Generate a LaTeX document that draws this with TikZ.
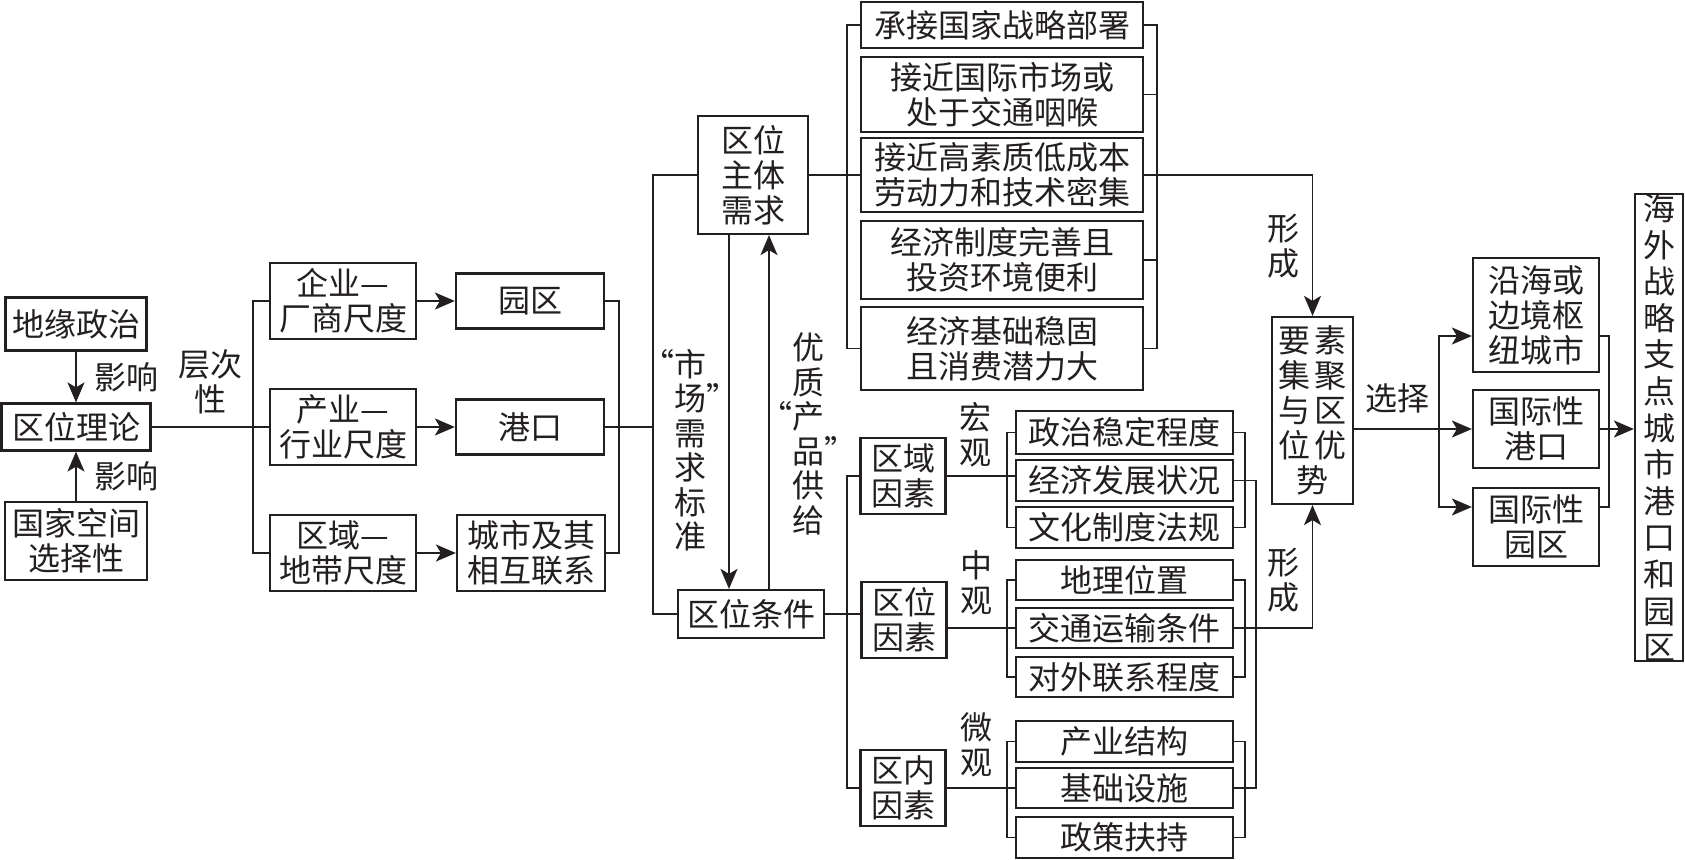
\documentclass[tikz,border=0pt]{standalone}
\usepackage{fontspec}
\setmainfont{Noto Sans CJK SC}
\newfontfamily\cjkwide[LetterSpace=10]{Noto Sans CJK SC}
\usepackage{tikz}
\usetikzlibrary{arrows.meta}
\definecolor{ink}{HTML}{231F20}
\newcommand{\boxfont}{\fontsize{16pt}{17.5pt}\selectfont}
\tikzset{
  box/.style={draw=ink, line width=1.1pt, inner sep=0pt, align=center, text=ink, font=\boxfont},
  widebox/.style={box, font=\cjkwide\boxfont},
  wire/.style={draw=ink, line width=0.9pt},
  arr/.style={wire, -{Stealth[length=10pt,width=8.5pt,inset=2.5pt]}},
  lab/.style={inner sep=0pt, align=center, text=ink, font=\boxfont}
}

\begin{document}
\begin{tikzpicture}[x=0.5pt,y=-0.5pt]
  \fill[white] (0,0) rectangle (1685,860);
  \useasboundingbox (0,0) rectangle (1685,860);
  % bracket columns
  \coordinate (bx1) at (253,0);
  \coordinate (bx2) at (619,0);
  \coordinate (vx) at (653,0);
  \coordinate (mx) at (847,0);
  \coordinate (trx) at (1157,0);
  \coordinate (sl) at (1007,0);
  \coordinate (sr) at (1245,0);
  \coordinate (lv) at (1256,0);
  \coordinate (selx) at (1439,0);
  \coordinate (rrx) at (1609,0);

  % theory side
  \node[box, minimum width=70.5pt, minimum height=26.5pt] (geo) at (76,324) {地缘政治};
  \node[box, minimum width=74.5pt, minimum height=23.5pt] (theory) at (76,427) {区位理论};
  \node[box, minimum width=71pt, minimum height=39pt] (state) at (76,541) {国家空间\\选择性};
  \draw[arr] (geo) -- (theory);
  \draw[arr] (state) -- (theory);
  \node[lab] (infl1) at (126,377) {影响};
  \node[lab] (infl2) at (126,476) {影响};
  \node[lab] (level) at (210,382) {层次\\性};

  % scales
  \node[box, minimum width=73pt, minimum height=38pt] (firm) at (343,301) {企业—\\厂商尺度};
  \node[box, minimum width=73pt, minimum height=38pt] (ind) at (343,427) {产业—\\行业尺度};
  \node[box, minimum width=73pt, minimum height=38pt] (reg) at (343,553) {区域—\\地带尺度};
  \node[box, minimum width=74pt, minimum height=27.5pt] (park) at (530,301) {园区};
  \node[box, minimum width=74pt, minimum height=27.5pt] (port) at (530,427) {港口};
  \node[box, minimum width=74pt, minimum height=38pt] (city) at (531,553) {城市及其\\相互联系};
  \draw[wire] (theory.east) -- (ind.west);
  \draw[wire] (firm.west) -| (reg.west -| bx1) -- (reg.west);
  \draw[arr] (firm) -- (park);
  \draw[arr] (ind) -- (port);
  \draw[arr] (reg) -- (city);
  \draw[wire] (park.east) -| (city.east -| bx2) -- (city.east);
  \draw[wire] (port.east) -- (port.east -| vx);

  % demand and conditions
  \node[box, minimum width=55pt, minimum height=59pt] (demand) at (753,175) {区位\\主体\\需求};
  \node[box, minimum width=73pt, minimum height=24pt] (cond) at (751,614) {区位条件};
  \draw[wire] (demand.west) -| (cond.west -| vx) -- (cond.west);
  \draw[arr] ([xshift=-12pt]demand.south) -- ([xshift=-12pt]demand.south |- cond.north);
  \draw[arr] ([xshift=8pt]demand.south |- cond.north) -- ([xshift=8pt]demand.south);
  \node[lab, font=\fontsize{16pt}{17.25pt}\selectfont] (mkt) at (690,450) {\llap{“}市\\场\rlap{”}\\需\\求\\标\\准};
  \node[lab, font=\fontsize{16pt}{17.25pt}\selectfont] (qual) at (808,434) {优\\质\\\llap{“}产\\品\rlap{”}\\供\\给};

  % needs of the locating subject
  \node[box, minimum width=141pt, minimum height=23pt] (t1) at (1002,25) {承接国家战略部署};
  \node[box, minimum width=141pt, minimum height=37.5pt] (t2) at (1002,94.5) {接近国际市场或\\处于交通咽喉};
  \node[box, minimum width=141pt, minimum height=37pt] (t3) at (1002,175) {接近高素质低成本\\劳动力和技术密集};
  \node[box, minimum width=141pt, minimum height=39pt] (t4) at (1002,260) {经济制度完善且\\投资环境便利};
  \node[box, minimum width=141pt, minimum height=41.5pt] (t5) at (1002,348.5) {经济基础稳固\\且消费潜力大};
  \draw[wire] (demand.east) -- (t3.west);
  \draw[wire] (t1.west) -| (t5.west -| mx) -- (t5.west);
  \draw[wire] (t1.east) -| (t5.east -| trx) -- (t5.east);
  \draw[wire] (t2.east) -- (t2.east -| trx);
  \draw[wire] (t4.east) -- (t4.east -| trx);

  % factors
  \node[box, minimum width=42.5pt, minimum height=38pt] (region) at (903,476) {区域\\因素};
  \node[box, minimum width=42.5pt, minimum height=38pt] (locf) at (904,620) {区位\\因素};
  \node[box, minimum width=42.5pt, minimum height=38pt] (inner) at (903,788) {区内\\因素};
  \draw[wire] (cond.east) -- (cond.east -| locf.west);
  \draw[wire] (region.west) -| (inner.west -| mx) -- (inner.west);
  \node[lab] (macro) at (975,435) {宏\\观};
  \node[lab] (meso) at (976,583) {中\\观};
  \node[lab] (micro) at (976,745) {微\\观};

  \node[box, minimum width=108.5pt, minimum height=21.5pt] (pol) at (1124.5,432.5) {政治稳定程度};
  \node[box, minimum width=108.5pt, minimum height=20.5pt] (eco) at (1124.5,480.5) {经济发展状况};
  \node[box, minimum width=108.5pt, minimum height=20.5pt] (cul) at (1124.5,527.5) {文化制度法规};
  \node[box, minimum width=108.5pt, minimum height=20pt] (geo2) at (1124.5,580) {地理位置};
  \node[box, minimum width=108.5pt, minimum height=20pt] (tr) at (1124.5,628) {交通运输条件};
  \node[box, minimum width=108.5pt, minimum height=20pt] (ext) at (1124.5,677) {对外联系程度};
  \node[box, minimum width=108.5pt, minimum height=20.5pt] (indst) at (1124.5,741.5) {产业结构};
  \node[box, minimum width=108.5pt, minimum height=20pt] (infra) at (1124.5,788) {基础设施};
  \node[box, minimum width=108.5pt, minimum height=20.5pt] (policy) at (1124.5,837.5) {政策扶持};
  \draw[wire] (region.east) -- (region.east -| eco.west);
  \draw[wire] (locf.east |- tr.west) -- (tr.west);
  \draw[wire] (inner.east) -- (infra.west);
  \draw[wire] (pol.west) -| (cul.west -| sl) -- (cul.west);
  \draw[wire] (pol.east) -| (cul.east -| sr) -- (cul.east);
  \draw[wire] (geo2.west) -| (ext.west -| sl) -- (ext.west);
  \draw[wire] (geo2.east) -| (ext.east -| sr) -- (ext.east);
  \draw[wire] (indst.west) -| (policy.west -| sl) -- (policy.west);
  \draw[wire] (indst.east) -| (policy.east -| sr) -- (policy.east);
  \draw[wire] (eco.east) -| (infra.east -| lv) -- (infra.east);

  % agglomeration and choice
  \node[widebox, minimum width=40.5pt, minimum height=93.5pt] (agg) at (1312.5,410.5) {要素\\集聚\\与区\\位优\\势};
  \draw[arr] (t3.east) -| (agg.north);
  \draw[arr] (tr.east) -| (agg.south);
  \node[lab] (form1) at (1283,246) {形\\成};
  \node[lab] (form2) at (1283,580) {形\\成};

  \node[box, minimum width=63pt, minimum height=57pt] (coast) at (1536,315) {沿海或\\边境枢\\纽城市};
  \node[box, minimum width=63pt, minimum height=39pt] (port2) at (1536,429) {国际性\\港口};
  \node[box, minimum width=63pt, minimum height=39pt] (park2) at (1536,527) {国际性\\园区};
  \node[box, minimum width=24pt, minimum height=219.5pt, font=\fontsize{16pt}{18.3pt}\selectfont] (big) at (1659,427.5) {海\\外\\战\\略\\支\\点\\城\\市\\港\\口\\和\\园\\区};
  \node[lab] (choose) at (1397,398) {选择};
  \draw[arr] (agg.east |- port2.west) -- (port2.west);
  \draw[arr] (selx |- port2.west) |- ([yshift=-10.5pt]coast.west);
  \draw[arr] (selx |- port2.west) |- ([yshift=10pt]park2.west);
  \draw[wire] ([yshift=-10.5pt]coast.east) -| ([yshift=10pt]park2.east -| rrx) -- ([yshift=10pt]park2.east);
  \draw[arr] (port2.east) -- (port2.east -| big.west);
\end{tikzpicture}
\end{document}
